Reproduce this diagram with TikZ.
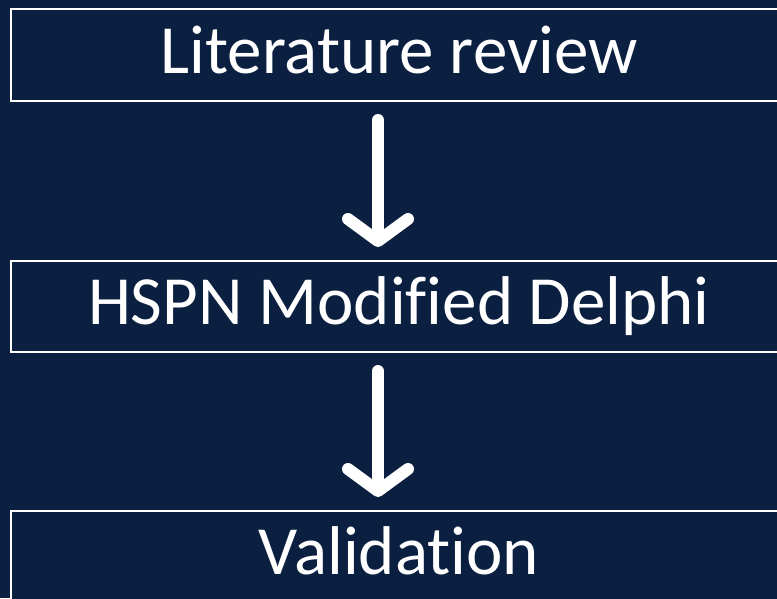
\documentclass[tikz,border=0pt]{standalone}
\usepackage{fontspec}
\setmainfont{Carlito}[RawFeature={-liga;-dlig;-clig}]
\usetikzlibrary{arrows.meta}
\definecolor{navy}{HTML}{0B1F40}
\tikzset{
  box/.style={draw=white, line width=2pt, fill=navy, minimum width=776pt, inner sep=0pt,
    text=white, font=\fontsize{69}{69}\selectfont, text height=50pt, text depth=14pt},
  flow/.style={draw=white, line width=12pt, line cap=round,
    -{Straight Barb[length=22pt, width=60pt, round]}}
}
\begin{document}
\begin{tikzpicture}[x=1pt,y=-1pt]
\fill[navy] (0,0) rectangle (777,598);
\useasboundingbox (0,0) rectangle (777,598);
\node[box, minimum height=92pt] (b1) at (399,55) {Literature review};
\node[box, minimum height=91pt] (b2) at (399,306.5) {HSPN Modified Delphi};
\node[box, minimum height=91pt] (b3) at (399,556.5) {Validation};
\draw[flow] ([xshift=-21pt, yshift=-18pt]b1.south) -- ([xshift=-21pt, yshift=13pt]b2.north);
\draw[flow] ([xshift=-21pt, yshift=-18pt]b2.south) -- ([xshift=-21pt, yshift=13pt]b3.north);
\end{tikzpicture}
\end{document}
